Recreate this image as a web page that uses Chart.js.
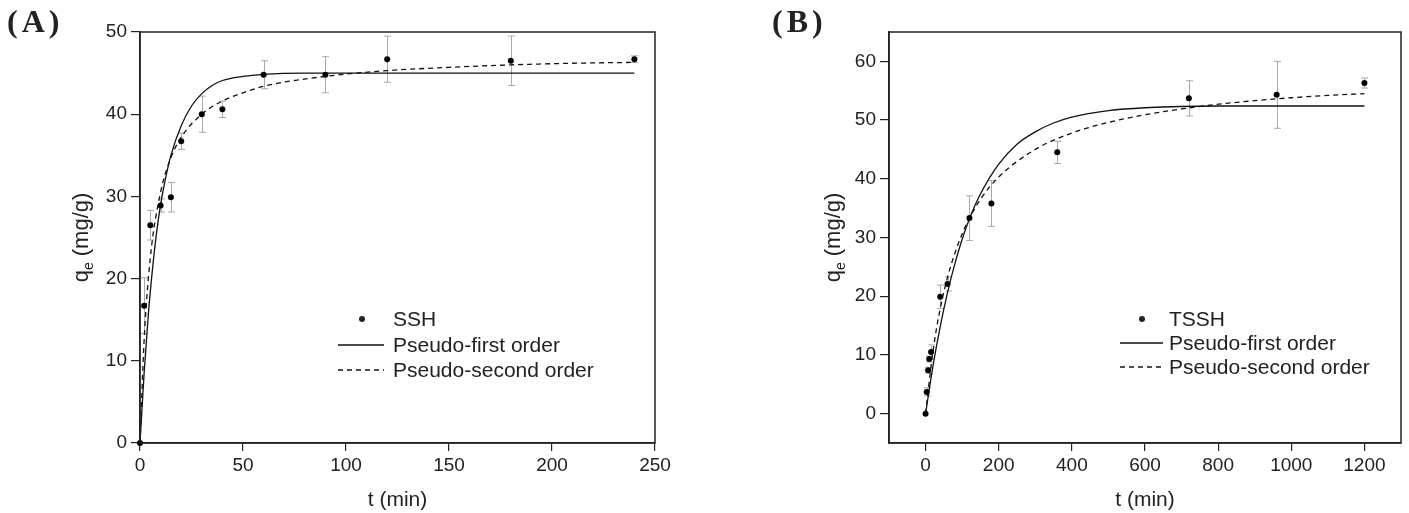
<!DOCTYPE html>
<html>
<head>
  <title>Adsorption kinetics</title>
  <script src="https://cdn.jsdelivr.net/npm/chart.js"></script>
  <style>
    body { margin: 0; background: #fff; }
    .wrap { position: relative; width: 1409px; height: 513px; }
    canvas { position: absolute; top: 0; }
    #chartA { left: 0; }
    #chartB { left: 700px; }
    .tag { position: absolute; font: bold 32px "Liberation Serif", "Times New Roman", serif; color: #222; letter-spacing: 4px; }
  </style>
</head>
<body>
<div class="wrap">
  <canvas id="chartA" width="700" height="513"></canvas>
  <canvas id="chartB" width="709" height="513"></canvas>
  <div class="tag" style="left:7px; top:3px">(A)</div>
  <div class="tag" style="left:772px; top:3px">(B)</div>
</div>

<script>
// (A) SSH measured points
const sshT   = [0, 2, 5, 10, 15, 20, 30, 40, 60, 90, 120, 180, 240];
const sshQ   = [0, 16.7, 26.5, 28.9, 29.9, 36.7, 40.0, 40.6, 44.8, 44.8, 46.7, 46.5, 46.7];
const sshErr = [0, 3.4, 1.8, 0.8, 1.8, 1.0, 2.2, 1.0, 1.7, 2.2, 2.8, 3.0, 0.4];

// (A) fitted curves
const pfoAT = [0, 2, 4, 6, 8, 10, 12, 15, 20, 25, 30, 35, 40, 50, 60, 80, 120, 240];
const pfoAQ = [0, 8.5, 15.5, 21, 25.5, 29, 31.7, 35, 38.6, 41, 42.5, 43.5, 44.1, 44.6, 44.85, 45, 45, 45];
const psoAT = [0, 2, 5, 10, 15, 20, 30, 40, 50, 60, 90, 120, 150, 180, 210, 240];
const psoAQ = [0, 12.5, 22.5, 30.5, 34.7, 37.2, 40, 41.6, 42.6, 43.4, 44.6, 45.3, 45.7, 46.0, 46.2, 46.3];

// (B) TSSH measured points
const tsshT   = [0, 3, 7, 10, 15, 40, 60, 120, 180, 360, 720, 960, 1200];
const tsshQ   = [0, 3.7, 7.4, 9.3, 10.5, 19.9, 22.1, 33.3, 35.8, 44.5, 53.7, 54.3, 56.3];
const tsshErr = [0, 0.7, 0.5, 0.5, 1.2, 2.0, 1.2, 3.8, 3.9, 1.9, 3.0, 5.7, 0.85];

// (B) fitted curves
const pfoBT = [0, 20, 40, 60, 80, 100, 120, 150, 200, 250, 300, 350, 400, 500, 600, 800, 1000, 1200];
const pfoBQ = [0, 8, 14.8, 20.6, 25.5, 29.7, 33.2, 37.4, 42.5, 45.9, 48.0, 49.5, 50.5, 51.6, 52.1, 52.4, 52.4, 52.4];
const psoBT = [0, 20, 40, 60, 80, 100, 120, 150, 200, 300, 400, 500, 600, 700, 800, 900, 1000, 1100, 1200];
const psoBQ = [0, 10.5, 17.9, 23.2, 27.3, 30.6, 33.3, 36.5, 40.3, 45, 47.8, 49.6, 50.9, 51.9, 52.7, 53.3, 53.8, 54.2, 54.5];

// tick labels
const xTicksA = [0, 50, 100, 150, 200, 250];
const yTicksA = [0, 10, 20, 30, 40, 50];
const xTicksB = [0, 200, 400, 600, 800, 1000, 1200];
const yTicksB = [0, 10, 20, 30, 40, 50, 60];

const legendLabels = ['Pseudo-first order', 'Pseudo-second order'];

Chart.defaults.font.family = '"Liberation Sans", Arial, sans-serif';
Chart.defaults.color = '#222';

const pts = (xs, ys) => xs.map((v, i) => ({ x: v, y: ys[i] }));

// error bars, frame, axis titles and legend
const decor = {
  id: 'decor',
  beforeDatasetsDraw(chart, args, o) {
    const { ctx, scales: { x, y } } = chart;
    ctx.save();
    ctx.strokeStyle = '#a9a9a9';
    ctx.lineWidth = 1;
    o.t.forEach((t, i) => {
      const e = o.err[i];
      if (!e) return;
      const px = Math.round(x.getPixelForValue(t)) + 0.5;
      const y1 = y.getPixelForValue(o.q[i] + e);
      const y2 = y.getPixelForValue(o.q[i] - e);
      ctx.beginPath();
      ctx.moveTo(px, y1); ctx.lineTo(px, y2);
      ctx.moveTo(px - 3.5, y1); ctx.lineTo(px + 3.5, y1);
      ctx.moveTo(px - 3.5, y2); ctx.lineTo(px + 3.5, y2);
      ctx.stroke();
    });
    ctx.restore();
  },
  afterDraw(chart, args, o) {
    const { ctx, chartArea: a } = chart;
    const fam = '"Liberation Sans", Arial, sans-serif';
    ctx.save();
    ctx.strokeStyle = '#222';
    ctx.lineWidth = 1.5;
    ctx.strokeRect(a.left, a.top, a.right - a.left, a.bottom - a.top);

    ctx.fillStyle = '#222';
    ctx.font = '21px ' + fam;
    ctx.textAlign = 'center';
    ctx.textBaseline = 'middle';
    ctx.fillText('t (min)', (a.left + a.right) / 2, 500);

    // y title with subscript e
    ctx.save();
    ctx.translate(o.yTitleX, (a.top + a.bottom) / 2);
    ctx.rotate(-Math.PI / 2);
    ctx.textAlign = 'left';
    ctx.textBaseline = 'alphabetic';
    ctx.font = '22px ' + fam;
    const wq = ctx.measureText('q').width;
    const wr = ctx.measureText(' (mg/g)').width;
    ctx.font = '14px ' + fam;
    const we = ctx.measureText('e').width;
    let x0 = -(wq + we + wr) / 2;
    ctx.font = '22px ' + fam;
    ctx.fillText('q', x0, 7);
    ctx.font = '14px ' + fam;
    ctx.fillText('e', x0 + wq, 12);
    ctx.font = '22px ' + fam;
    ctx.fillText(' (mg/g)', x0 + wq + we, 7);
    ctx.restore();

    // legend
    const L = o.legend;
    ctx.font = '21px ' + fam;
    ctx.textAlign = 'left';
    ctx.textBaseline = 'middle';
    chart.data.datasets.forEach((ds, i) => {
      const ly = L.rows[i];
      if (ds.showLine) {
        ctx.save();
        ctx.strokeStyle = ds.borderColor;
        ctx.lineWidth = ds.borderWidth;
        ctx.setLineDash(ds.borderDash || []);
        ctx.beginPath();
        ctx.moveTo(L.x1, ly); ctx.lineTo(L.x2, ly);
        ctx.stroke();
        ctx.restore();
      } else {
        ctx.beginPath();
        ctx.arc(L.dot, ly, 3, 0, Math.PI * 2);
        ctx.fill();
      }
      ctx.fillText(ds.label, L.text, ly + 1);
    });
    ctx.restore();
  }
};

function makeChart(id, c) {
  const axisGrid = { drawOnChartArea: false, drawTicks: true, color: '#222', lineWidth: 1.2 };
  return new Chart(document.getElementById(id), {
    type: 'scatter',
    data: {
      datasets: [
        { label: c.name, data: pts(c.t, c.q), pointRadius: 3, pointHoverRadius: 3,
          backgroundColor: '#000', borderWidth: 0, showLine: false, clip: false },
        { label: legendLabels[0], data: pts(c.pfoT, c.pfoQ), showLine: true, pointRadius: 0,
          borderColor: '#111', borderWidth: 1.3, cubicInterpolationMode: 'monotone' },
        { label: legendLabels[1], data: pts(c.psoT, c.psoQ), showLine: true, pointRadius: 0,
          borderColor: '#111', borderWidth: 1.3, borderDash: [5, 4], cubicInterpolationMode: 'monotone' }
      ]
    },
    options: {
      responsive: false,
      animation: false,
      layout: { padding: c.pad },
      scales: {
        x: {
          type: 'linear', min: c.xMin, max: c.xMax,
          afterBuildTicks: s => { s.ticks = c.xTicks.map(v => ({ value: v })); },
          afterFit: s => { s.height = 70; },
          grid: Object.assign({ tickLength: 8 }, axisGrid),
          border: { color: '#222', width: 1.5 },
          ticks: { font: { size: 19 }, padding: 3, maxRotation: 0, callback: v => String(v) }
        },
        y: {
          min: c.yMin, max: c.yMax,
          afterBuildTicks: s => { s.ticks = c.yTicks.map(v => ({ value: v })); },
          afterFit: s => { s.width = 60; },
          grid: Object.assign({ tickLength: 9 }, axisGrid),
          border: { color: '#222', width: 1.5 },
          ticks: { font: { size: 19 }, padding: 4, callback: v => String(v) }
        }
      },
      plugins: {
        legend: { display: false },
        tooltip: { enabled: false },
        decor: { t: c.t, q: c.q, err: c.err, yTitleX: c.yTitleX, legend: c.legend }
      }
    },
    plugins: [decor]
  });
}

makeChart('chartA', {
  name: 'SSH', t: sshT, q: sshQ, err: sshErr,
  pfoT: pfoAT, pfoQ: pfoAQ, psoT: psoAT, psoQ: psoAQ,
  xMin: 0, xMax: 250, yMin: 0, yMax: 50, xTicks: xTicksA, yTicks: yTicksA,
  pad: { left: 80, right: 45, top: 32, bottom: 0 },
  yTitleX: 81,
  legend: { dot: 362, x1: 338, x2: 384, text: 393, rows: [319, 345, 370] }
});

makeChart('chartB', {
  name: 'TSSH', t: tsshT, q: tsshQ, err: tsshErr,
  pfoT: pfoBT, pfoQ: pfoBQ, psoT: psoBT, psoQ: psoBQ,
  xMin: -100, xMax: 1300, yMin: -5, yMax: 65, xTicks: xTicksB, yTicks: yTicksB,
  pad: { left: 129, right: 8, top: 32, bottom: 0 },
  yTitleX: 133,
  legend: { dot: 442, x1: 420, x2: 463, text: 469, rows: [319, 343, 367] }
});
</script>
</body>
</html>
